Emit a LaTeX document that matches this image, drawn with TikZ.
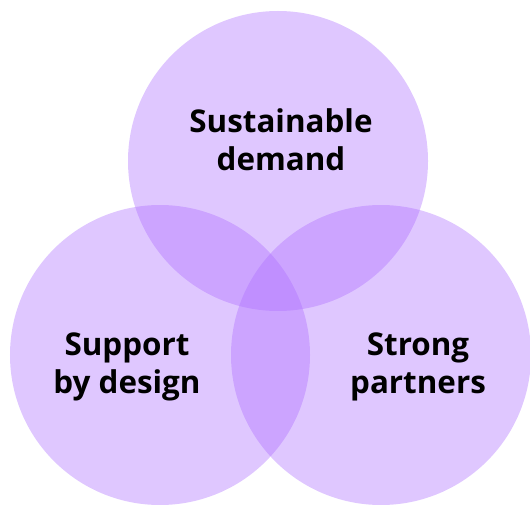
\documentclass[tikz,border=0pt]{standalone}
\usepackage{fontspec}
\setmainfont{Open Sans}
\usetikzlibrary{positioning}
\definecolor{lilac}{RGB}{172,108,255}
\tikzstyle{vcircle}=[circle, fill=lilac, fill opacity=0.38, draw=none, minimum size=300bp, inner sep=0pt]
\tikzstyle{vlabel}=[align=center, text=black, font=\fontsize{31.5}{38}\selectfont\bfseries, inner sep=0pt]

\begin{document}
\begin{tikzpicture}[x=1bp,y=-1bp]
\useasboundingbox (0,0) rectangle (530,505);
\node (DEMAND) [vcircle] at (278,161) {};
\node (SUPPORT) [vcircle] at (160,355) {};
\node (PARTNERS) [vcircle] at (381,355) {};
\node (DEMANDL) [vlabel] at (281,140) {Sustainable\\demand};
\node (SUPPORTL) [vlabel] at (127,367) {Support\\by design};
\node (PARTNERSL) [vlabel] at (418,367) {Strong\\partners};
\end{tikzpicture}
\end{document}
